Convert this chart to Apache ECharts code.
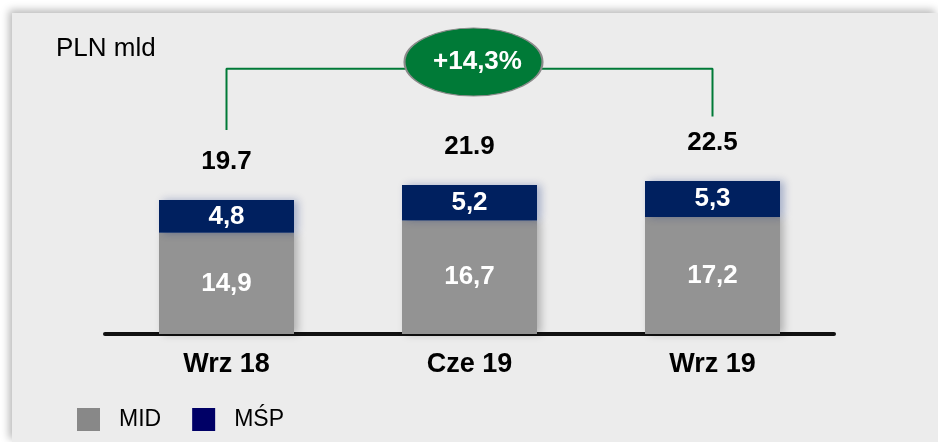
<!DOCTYPE html>
<html>
<head>
<meta charset="utf-8">
<script src="https://cdn.jsdelivr.net/npm/echarts@6/dist/echarts.min.js"></script>
<style>
	html, body {
		margin: 0;
		padding: 0;
		background: #ffffff;
	}
	.wrap {
		position: relative;
		width: 938px;
		height: 442px;
		overflow: hidden;
	}
	/* szare tło panelu z cieniem */
	.panel {
		position: absolute;
		left: 12px;
		top: 13px;
		right: 0;
		bottom: 0;
		background: #ececec;
		box-shadow: -3px -3px 8px rgba(0, 0, 0, 0.28);
	}
	#chart {
		position: absolute;
		left: 0;
		top: 0;
		width: 938px;
		height: 442px;
	}
</style>
</head>
<body>
<div class="wrap">
	<div class="panel"></div>
	<div id="chart"></div>
</div>
<script>
	// dane
	const categories = ["Wrz 18", "Cze 19", "Wrz 19"];
	const midValues = [14.9, 16.7, 17.2];
	const mspValues = [4.8, 5.2, 5.3];
	const totals = [19.7, 21.9, 22.5];

	// klamra zmiany r/r (od Wrz 18 do Wrz 19)
	const bracketPoints = [[0, 30], [0, 39], [2, 39], [2, 32]];
	const changeBubble = [[1, 40]];
	const changeText = "+14,3%";

	const green = "#007a37";
	const font = "Liberation Sans, Arial, sans-serif";

	const chart = echarts.init(document.getElementById("chart"), null, { renderer: "canvas" });

	const option = {
		animation: false,
		backgroundColor: "transparent",
		title: {
			text: "PLN mld",
			left: 56,
			top: 36,
			padding: 0,
			textStyle: {
				color: "#000",
				fontSize: 26,
				fontWeight: "normal",
				fontFamily: font,
			},
		},
		legend: {
			left: 77,
			top: 408,
			padding: 0,
			itemWidth: 23,
			itemHeight: 23,
			itemGap: 31,
			icon: "rect",
			textStyle: {
				color: "#000",
				fontSize: 23,
				fontFamily: font,
				padding: [0, 0, 0, 14],
			},
			data: [
				{ name: "MID", itemStyle: { color: "#888888" } },
				{ name: "MŚP", itemStyle: { color: "#000066" } },
			],
		},
		grid: {
			left: 105,
			right: 104,
			top: 28,
			bottom: 108,
		},
		xAxis: {
			type: "category",
			data: categories,
			axisLine: {
				lineStyle: { color: "#111", width: 4 },
			},
			axisTick: { show: false },
			axisLabel: {
				color: "#000",
				fontSize: 27,
				fontWeight: "bold",
				fontFamily: font,
				margin: 17,
			},
		},
		yAxis: {
			type: "value",
			min: 0,
			max: 45,
			show: false,
			splitLine: { show: false },
		},
		series: [
			{
				name: "MID",
				type: "bar",
				stack: "total",
				barWidth: 135,
				data: midValues,
				itemStyle: {
					color: "#939393",
					shadowColor: "rgba(0,0,0,0.25)",
					shadowBlur: 8,
					shadowOffsetX: 4,
				},
				label: {
					show: true,
					position: "inside",
					color: "#fff",
					fontSize: 26,
					fontWeight: "bold",
					fontFamily: font,
					formatter: (p) => String(p.value).replace(".", ","),
				},
			},
			{
				name: "MŚP",
				type: "bar",
				stack: "total",
				barWidth: 135,
				data: mspValues,
				itemStyle: {
					color: "#00205f",
					shadowColor: "rgba(0,32,120,0.3)",
					shadowBlur: 8,
					shadowOffsetX: 4,
				},
				label: {
					show: true,
					position: "inside",
					color: "#fff",
					fontSize: 26,
					fontWeight: "bold",
					fontFamily: font,
					formatter: (p) => String(p.value).replace(".", ","),
				},
			},
			{
				// sumy nad słupkami
				name: "total",
				type: "scatter",
				data: totals,
				symbolSize: 1,
				itemStyle: { color: "transparent", opacity: 1 },
				label: {
					show: true,
					position: "top",
					distance: 25,
					color: "#000",
					fontSize: 26,
					fontWeight: "bold",
					fontFamily: font,
					formatter: (p) => p.value.toFixed(1),
				},
				z: 5,
			},
			{
				name: "bracket",
				type: "line",
				data: bracketPoints,
				symbol: "none",
				lineStyle: { color: green, width: 2 },
				z: 3,
			},
			{
				name: "change",
				type: "scatter",
				data: changeBubble,
				symbol: "circle",
				symbolSize: [138, 68],
				symbolOffset: [4, 0],
				itemStyle: {
					color: green,
					opacity: 1,
					borderColor: "#8a8a8a",
					borderWidth: 1.5,
				},
				label: {
					show: true,
					position: "inside",
					offset: [4, 0],
					color: "#fff",
					fontSize: 26,
					fontWeight: "bold",
					fontFamily: font,
					formatter: changeText,
				},
				z: 6,
			},
		],
	};

	chart.setOption(option);
</script>
</body>
</html>
